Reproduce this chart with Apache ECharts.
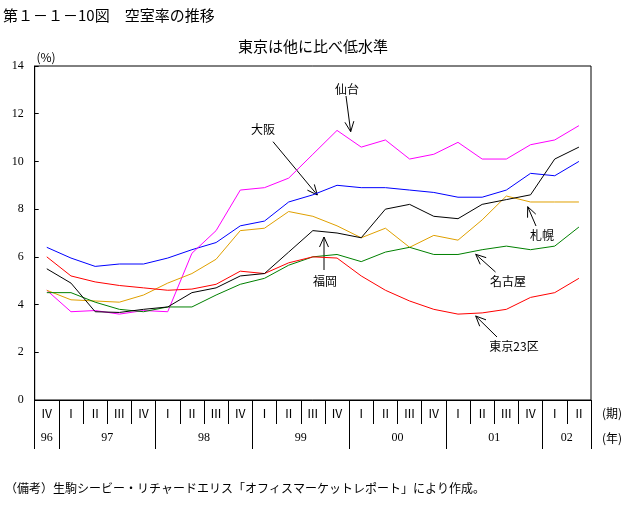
<!DOCTYPE html>
<html><head><meta charset="utf-8">
<script src="https://cdn.jsdelivr.net/npm/echarts@6/dist/echarts.min.js"></script>
<style>html,body{margin:0;padding:0;background:#fff}#c{width:635px;height:510px}</style>
</head><body><div id="c"></div>
<script>
// ---- data ----
const quarterLabels = ['Ⅳ','Ⅰ','Ⅱ','Ⅲ','Ⅳ','Ⅰ','Ⅱ','Ⅲ','Ⅳ','Ⅰ','Ⅱ','Ⅲ','Ⅳ','Ⅰ','Ⅱ','Ⅲ','Ⅳ','Ⅰ','Ⅱ','Ⅲ','Ⅳ','Ⅰ','Ⅱ'];
const yearLabels = ['96','97','98','99','00','01','02'];
const yearQuarterCounts = [1,4,4,4,4,4,2];
const osaka   = [6.4,5.95,5.6,5.7,5.7,5.95,6.3,6.6,7.3,7.5,8.3,8.6,9.0,8.9,8.9,8.8,8.7,8.5,8.5,8.8,9.5,9.4,10.0];
const sendai  = [4.6,3.7,3.75,3.6,3.75,3.7,6.15,7.1,8.8,8.9,9.3,10.3,11.3,10.6,10.9,10.1,10.3,10.8,10.1,10.1,10.7,10.9,11.5];
const fukuoka = [5.5,4.9,3.7,3.67,3.8,3.9,4.5,4.7,5.2,5.3,6.2,7.1,7.0,6.8,8.0,8.2,7.7,7.6,8.2,8.4,8.6,10.1,10.6];
const sapporo = [4.6,4.2,4.15,4.1,4.4,4.9,5.3,5.9,7.1,7.2,7.9,7.7,7.3,6.8,7.2,6.4,6.9,6.7,7.55,8.55,8.3,8.3,8.3];
const nagoya  = [4.5,4.5,4.1,3.8,3.7,3.9,3.9,4.4,4.85,5.1,5.65,6.0,6.1,5.8,6.2,6.4,6.1,6.1,6.3,6.45,6.3,6.45,7.25];
const tokyo23 = [6.0,5.2,4.95,4.8,4.7,4.6,4.65,4.85,5.4,5.3,5.75,6.0,5.95,5.2,4.6,4.15,3.8,3.6,3.65,3.8,4.3,4.5,5.1];

// ---- build ----
const boundaries = [0];
yearQuarterCounts.forEach(c => boundaries.push(boundaries[boundaries.length-1] + c));
const yearCenters = yearQuarterCounts.map((c,i) => boundaries[i] + c/2);
const yearMap = {};
yearCenters.forEach((v,i) => yearMap[v] = yearLabels[i]);

const JP = '"Noto Sans CJK JP", sans-serif';
function mk(name, data, color){
  return {name, type:'line', data, symbol:'none', smooth:false,
    lineStyle:{color, width:1}, itemStyle:{color}, animation:false};
}
function arrow(x1,y1,x2,y2){
  const a = Math.atan2(y2-y1, x2-x1), L = 11, w = 0.42;
  const st = {stroke:'#000', lineWidth:1, fill:null};
  return [
    {type:'line', shape:{x1,y1,x2,y2}, style:st},
    {type:'polyline', shape:{points:[[x2-L*Math.cos(a-w), y2-L*Math.sin(a-w)],[x2,y2],[x2-L*Math.cos(a+w), y2-L*Math.sin(a+w)]]}, style:st}
  ];
}
function txt(x,y,t,size,align){
  return {type:'text', x, y, style:{text:t, font:size+'px '+JP, fill:'#000', textAlign:align||'center', textVerticalAlign:'middle'}};
}

const chart = echarts.init(document.getElementById('c'), null, {renderer:'canvas'});
chart.setOption({
  backgroundColor:'#fff',
  animation:false,
  grid:{left:34.7, right:44, top:66, bottom:110, show:true, borderColor:'#000', borderWidth:1, backgroundColor:'transparent'},
  xAxis:[
    {type:'category', data:quarterLabels, boundaryGap:true, position:'bottom',
     axisLine:{lineStyle:{color:'#000', width:1}},
     axisTick:{show:true, interval:0, alignWithLabel:false, length:24, lineStyle:{color:'#000', width:1}},
     axisLabel:{color:'#000', fontSize:12, fontFamily:JP, margin:7, interval:0}},
    {type:'value', min:0, max:23, position:'bottom', offset:24,
     axisLine:{show:false}, splitLine:{show:false},
     axisTick:{show:true, length:25, customValues:boundaries, lineStyle:{color:'#000'}},
     axisLabel:{customValues:yearCenters, color:'#000', fontSize:12, fontFamily:'"Liberation Serif", serif', margin:8,
       formatter: v => yearMap[v] || ''}}
  ],
  yAxis:{type:'value', min:0, max:14, interval:2,
    axisLine:{show:true, lineStyle:{color:'#000'}},
    axisTick:{show:true, inside:true, length:4, lineStyle:{color:'#000'}},
    splitLine:{show:false},
    axisLabel:{color:'#000', fontSize:12, fontFamily:'"Liberation Serif", serif', margin:11}},
  series:[
    mk('大阪', osaka, '#0000FF'),
    mk('仙台', sendai, '#FF00FF'),
    mk('札幌', sapporo, '#E0A000'),
    mk('名古屋', nagoya, '#008000'),
    mk('東京23区', tokyo23, '#FF0000'),
    mk('福岡', fukuoka, '#000000')
  ],
  graphic:[
    txt(3,15,'第１－１－10図　空室率の推移',15,'left'),
    txt(313,46,'東京は他に比べ低水準',15),
    txt(46,57,'(%)',12),
    txt(612,413,'(期)',12),
    txt(612,438,'(年)',12),
    txt(5,488,'（備考）生駒シービー・リチャードエリス「オフィスマーケットレポート」により作成。',12,'left'),
    txt(347,89,'仙台',12),
    txt(263,129,'大阪',12),
    txt(542,235,'札幌',12),
    txt(325,281,'福岡',12),
    txt(508,281,'名古屋',12),
    txt(514,346,'東京23区',12),
    ...arrow(346,96,350.7,131.7),
    ...arrow(273,141.7,317.3,195),
    ...arrow(536,226,527.7,206.7),
    ...arrow(324,270,324,237),
    ...arrow(495.5,272,475.7,254.3),
    ...arrow(497,337,475.7,316)
  ]
});
</script></body></html>
